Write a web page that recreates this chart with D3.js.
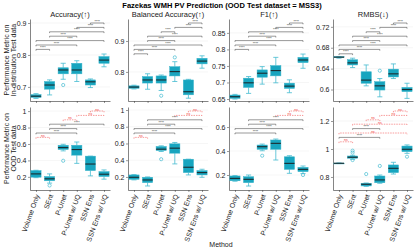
<!DOCTYPE html>
<html lang="en">
<head>
  <meta charset="UTF-8">
  <title>Fazekas WMH PV Prediction</title>
  <style>
    body { margin: 0; background: #fff; }
    text { font-family: "Liberation Sans", Arial, sans-serif; }
  </style>
</head>
<body>
  <div id="chart"></div>
  <script src="https://d3js.org/d3.v7.min.js"></script>
  <script>
    // categories
    const methods = ["Volume Only", "SEnt", "P-Unet", "P-Unet w/ UQ", "SSN Ens", "SSN Ens w/ UQ"];
    const metrics = ["Accuracy(↑)", "Balanced Accuracy(↑)", "F1(↑)", "RMBS(↓)"];

    // box stats per method: [low whisker, q1, median, q3, high whisker]
    const accIn = [[0.664, 0.667, 0.671, 0.676, 0.679], [0.675, 0.693, 0.706, 0.717, 0.722], [0.724, 0.741, 0.753, 0.760, 0.774],
                   [0.717, 0.741, 0.753, 0.774, 0.782], [0.698, 0.706, 0.716, 0.722, 0.725], [0.763, 0.774, 0.784, 0.795, 0.803]];
    const balIn = [[0.745, 0.747, 0.751, 0.755, 0.757], [0.744, 0.764, 0.774, 0.785, 0.794], [0.740, 0.764, 0.774, 0.787, 0.790],
                   [0.769, 0.787, 0.801, 0.817, 0.833], [0.715, 0.726, 0.736, 0.774, 0.776], [0.812, 0.826, 0.835, 0.844, 0.852]];
    const f1In = [[0.650, 0.652, 0.657, 0.662, 0.664], [0.667, 0.685, 0.699, 0.713, 0.718], [0.695, 0.716, 0.728, 0.738, 0.748],
                  [0.699, 0.720, 0.736, 0.751, 0.776], [0.669, 0.682, 0.689, 0.698, 0.708], [0.743, 0.760, 0.768, 0.776, 0.786]];
    const rmbsIn = [[0.660, 0.6612, 0.662, 0.6628, 0.663], [0.642, 0.647, 0.651, 0.657, 0.660], [0.607, 0.612, 0.618, 0.634, 0.647],
                    [0.586, 0.599, 0.607, 0.615, 0.621], [0.621, 0.624, 0.630, 0.639, 0.649], [0.583, 0.596, 0.600, 0.604, 0.612]];
    const accOod = [[0.19, 0.196, 0.236, 0.276, 0.28], [0.124, 0.152, 0.176, 0.204, 0.236], [0.516, 0.533, 0.556, 0.584, 0.596],
                    [0.364, 0.464, 0.532, 0.584, 0.624], [0.212, 0.276, 0.356, 0.452, 0.452], [0.172, 0.204, 0.232, 0.264, 0.284]];
    const balOod = [[0.165, 0.172, 0.196, 0.224, 0.228], [0.092, 0.132, 0.164, 0.196, 0.20], [0.504, 0.516, 0.532, 0.564, 0.572],
                    [0.356, 0.484, 0.544, 0.596, 0.612], [0.224, 0.252, 0.316, 0.412, 0.412], [0.196, 0.224, 0.252, 0.276, 0.292]];
    const f1Ood = [[0.148, 0.152, 0.172, 0.192, 0.195], [0.108, 0.136, 0.164, 0.186, 0.20], [0.402, 0.414, 0.436, 0.45, 0.458],
                   [0.325, 0.414, 0.464, 0.492, 0.50], [0.214, 0.247, 0.297, 0.352, 0.361], [0.212, 0.228, 0.247, 0.264, 0.275]];
    const rmbsOod = [[0.896, 0.897, 0.898, 0.899, 0.900], [0.926, 0.934, 0.941, 0.95, 0.955], [0.733, 0.736, 0.748, 0.755, 0.757],
                     [0.755, 0.759, 0.779, 0.807, 0.814], [0.821, 0.831, 0.862, 0.886, 0.905], [0.969, 0.981, 0.998, 1.021, 1.029]];

    // outliers per method
    const accInOut = [[], [], [0.706], [], [], []];
    const balInOut = [[], [], [0.723], [0.847], [], []];
    const f1InOut = [[], [], [], [], [], []];
    const rmbsInOut = [[], [], [], [0.636], [], []];
    const accOodOut = [[], [0.095], [0.396], [], [], []];
    const balOodOut = [[], [], [0.412], [], [], []];
    const f1OodOut = [[], [], [0.361], [], [], [0.20]];
    const rmbsOodOut = [[], [0.988, 0.974, 0.921], [0.821], [0.879], [], [0.945]];

    // axis ranges and tick labels
    const domainsIn = [[0.656, 0.9125], [0.706, 0.971], [0.644, 0.892], [0.578, 0.735]];
    const domainsOod = [[0.04, 1.05], [0.044, 1.036], [0.075, 0.767], [0.707, 1.30]];
    const ticksIn = [[0.7, 0.8, 0.9], [0.8, 0.9], [0.65, 0.7, 0.75, 0.8, 0.85], [0.6, 0.64, 0.68, 0.72]];
    const ticksOod = [[0.2, 0.4, 0.6, 0.8, 1], [0.2, 0.4, 0.6, 0.8, 1], [0.2, 0.4, 0.6], [0.8, 1, 1.2]];

    // significance brackets (top to bottom), s = significant, n = ns, - = not drawn
    const bracketPairs = [[4, 5], [3, 5], [2, 3], [1, 5], [1, 3], [0, 5], [0, 3], [0, 1]];
    const sigIn = ["ss-sssss", "ssssssss", "ss-sssss", "ssssssss"];
    const sigOod = ["nnnss-sn", "nn-ssssn", "nn-ssss-", "nnnnsnsn"];

    const width = 415, height = 251;
    const colX = [30, 128, 229, 333];
    const panelW = 80;
    const rows = [
      { y0: 19, h: 82, stats: [accIn, balIn, f1In, rmbsIn], outs: [accInOut, balInOut, f1InOut, rmbsInOut],
        domains: domainsIn, ticks: ticksIn, sig: sigIn, title: ["Performance Metric on", "In-distribution Test data"] },
      { y0: 107, h: 83, stats: [accOod, balOod, f1Ood, rmbsOod], outs: [accOodOut, balOodOut, f1OodOut, rmbsOodOut],
        domains: domainsOod, ticks: ticksOod, sig: sigOod, title: ["Performance Metric on", "OOD Test data"] }
    ];

    const fill = "#17a5bf", edge = "#38b3c9", whisk = "#45bbd1", medianCol = "#1b2b2f";

    const svg = d3.select("#chart").append("svg")
      .attr("width", width).attr("height", height)
      .style("background", "#fff");

    svg.append("text")
      .attr("x", 222).attr("y", 8)
      .attr("text-anchor", "middle")
      .style("font-size", "7.5px").style("font-weight", "bold")
      .text("Fazekas WMH PV Prediction (OOD Test dataset = MSS3)");

    metrics.forEach((m, c) => {
      svg.append("text")
        .attr("x", colX[c] + panelW / 2).attr("y", 16.5)
        .attr("text-anchor", "middle")
        .style("font-size", "7.5px").attr("fill", "#1a1a1a")
        .text(m);
    });

    rows.forEach((row, r) => {
      // y axis title
      const t = svg.append("text")
        .attr("transform", `translate(8.5,${row.y0 + row.h / 2}) rotate(-90)`)
        .attr("text-anchor", "middle")
        .style("font-size", "7px").attr("fill", "#1a1a1a");
      t.append("tspan").attr("x", 0).attr("y", 0).text(row.title[0]);
      t.append("tspan").attr("x", 0).attr("y", 7.5).text(row.title[1]);

      metrics.forEach((m, c) => {
        const g = svg.append("g").attr("transform", `translate(${colX[c]},${row.y0})`);
        const x = d3.scalePoint().domain(methods).range([0, panelW]).padding(0.44);
        const y = d3.scaleLinear().domain(row.domains[c]).range([row.h, 0]);
        const bw = x.step() * 0.75;

        // grid
        g.selectAll(".grid").data(row.ticks[c]).join("line")
          .attr("x1", 0).attr("x2", panelW)
          .attr("y1", d => y(d)).attr("y2", d => y(d))
          .attr("stroke", "#ececec").attr("stroke-width", 0.5);

        // axes
        const ya = g.append("g")
          .call(d3.axisLeft(y).tickValues(row.ticks[c]).tickSize(2).tickSizeOuter(0).tickFormat(d3.format("~g")));
        const xa = g.append("g").attr("transform", `translate(0,${row.h})`)
          .call(d3.axisBottom(x).tickSize(2).tickSizeOuter(0).tickFormat(""));
        [ya, xa].forEach(a => {
          a.select(".domain").attr("stroke", "#333").attr("stroke-width", 0.6);
          a.selectAll(".tick line").attr("stroke", "#333").attr("stroke-width", 0.5);
        });
        ya.selectAll(".tick text").attr("x", -3.5).style("font-size", "7px").attr("fill", "#222");

        if (r === 1) {
          g.selectAll(".xlab").data(methods).join("text")
            .attr("transform", d => `translate(${x(d) + 1.5},${row.h + 4.5}) rotate(-70)`)
            .attr("text-anchor", "end").attr("dy", "0.35em")
            .style("font-size", "7px").attr("fill", "#222")
            .text(d => d);
        }

        // boxes
        const stats = row.stats[c];
        methods.forEach((name, i) => {
          const [lo, q1, md, q3, hi] = stats[i];
          const cx = x(name);
          const bg = g.append("g");
          bg.append("line").attr("x1", cx).attr("x2", cx).attr("y1", y(hi)).attr("y2", y(q3))
            .attr("stroke", whisk).attr("stroke-width", 0.8);
          bg.append("line").attr("x1", cx).attr("x2", cx).attr("y1", y(q1)).attr("y2", y(lo))
            .attr("stroke", whisk).attr("stroke-width", 0.8);
          [lo, hi].forEach(v => bg.append("line")
            .attr("x1", cx - bw / 4).attr("x2", cx + bw / 4).attr("y1", y(v)).attr("y2", y(v))
            .attr("stroke", whisk).attr("stroke-width", 0.8));
          bg.append("rect")
            .attr("x", cx - bw / 2).attr("width", bw)
            .attr("y", y(q3)).attr("height", Math.max(0.8, y(q1) - y(q3)))
            .attr("fill", fill).attr("stroke", edge).attr("stroke-width", 0.5);
          bg.append("line").attr("x1", cx - bw / 2).attr("x2", cx + bw / 2).attr("y1", y(md)).attr("y2", y(md))
            .attr("stroke", medianCol).attr("stroke-width", 1.1);
          bg.selectAll("circle").data(row.outs[c][i]).join("circle")
            .attr("cx", cx).attr("cy", d => y(d)).attr("r", 1.6)
            .attr("fill", "none").attr("stroke", whisk).attr("stroke-width", 0.7);
        });

        // significance brackets
        let level = 0;
        bracketPairs.forEach((p, k) => {
          const s = row.sig[c][k];
          if (s === "-") return;
          const by = 4 + level * 4.4;
          level++;
          const x1 = x(methods[p[0]]), x2 = x(methods[p[1]]);
          const col = s === "s" ? "#333" : "#f03a3a";
          g.append("path")
            .attr("d", `M${x1},${by + 1.3}V${by}H${x2}V${by + 1.3}`)
            .attr("fill", "none").attr("stroke", col).attr("stroke-width", 0.5)
            .attr("stroke-dasharray", s === "s" ? null : "1.5,1");
          g.append("text")
            .attr("x", (x1 + x2) / 2).attr("y", by - 0.5)
            .attr("text-anchor", "middle")
            .style("font-size", "3.5px").attr("fill", col)
            .text(s === "s" ? "****" : "ns");
        });
      });
    });

    svg.append("text")
      .attr("x", 221).attr("y", 247)
      .attr("text-anchor", "middle")
      .style("font-size", "7px").attr("fill", "#1a1a1a")
      .text("Method");
  </script>
</body>
</html>
